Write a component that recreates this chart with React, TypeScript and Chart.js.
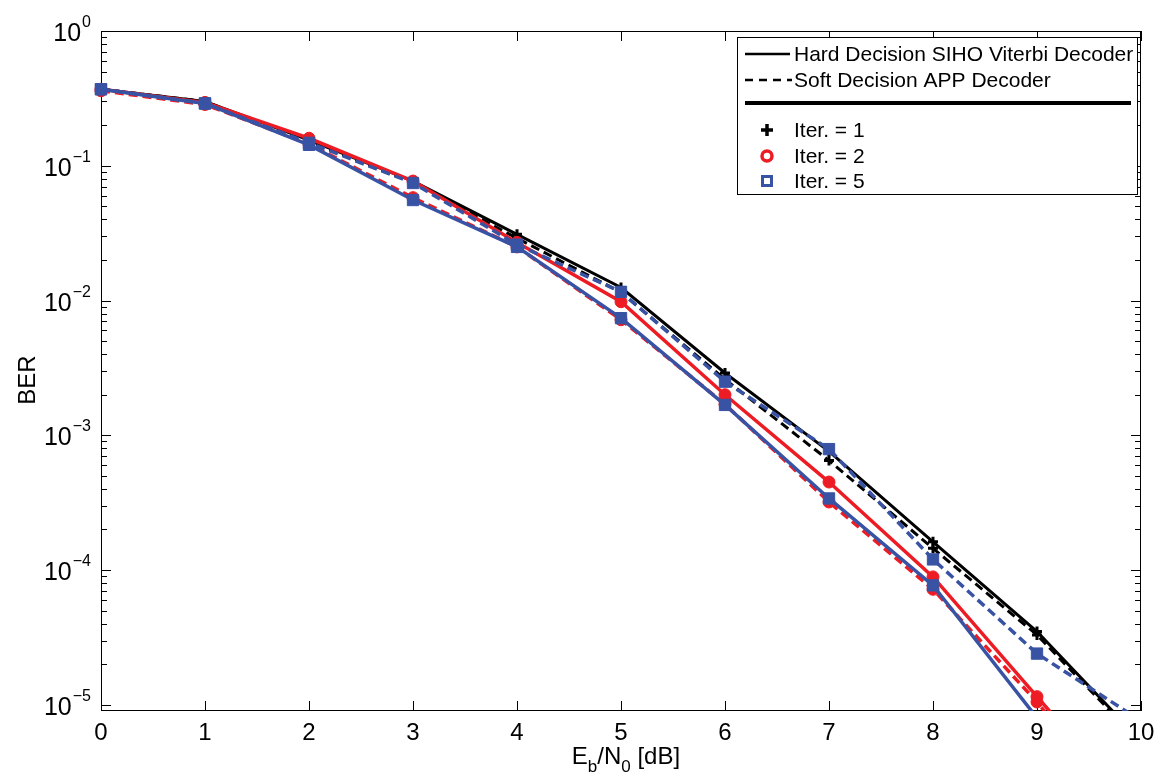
import React, { useEffect, useRef } from 'react';
import { Chart, registerables } from 'chart.js';

Chart.register(...registerables);

// ---------- data ----------
const ebN0 = [0, 1, 2, 3, 4, 5, 6, 7, 8, 9, 10];
const hardIter1 = [0.37, 0.3, 0.155, 0.077, 0.031, 0.0125, 0.0029, 0.00076, 0.000162, 0.000035, 0.0000054];
const softIter1 = [0.37, 0.3, 0.152, 0.075, 0.029, 0.0115, 0.0026, 0.00065, 0.000145, 0.000033, 0.0000052];
const hardIter2 = [0.37, 0.295, 0.16, 0.077, 0.027, 0.0098, 0.002, 0.00045, 0.000089, 0.0000115, 0.0000015];
const softIter2 = [0.36, 0.285, 0.145, 0.058, 0.025, 0.0072, 0.0017, 0.00032, 0.000072, 0.0000105, 0.0000012];
const hardIter5 = [0.37, 0.29, 0.143, 0.0557, 0.025, 0.0074, 0.00168, 0.00034, 0.000077, 0.000008];
const softIter5 = [0.37, 0.29, 0.148, 0.0745, 0.026, 0.0116, 0.0025, 0.00079, 0.00012, 0.000024, 0.0000076];

const xTicks = [0, 1, 2, 3, 4, 5, 6, 7, 8, 9, 10];
const yDecades = [0, -1, -2, -3, -4, -5];
const legendLines = ['Hard Decision SIHO Viterbi Decoder', 'Soft Decision APP Decoder'];
const legendIters = ['Iter. = 1', 'Iter. = 2', 'Iter. = 5'];

const RED = '#ed1c24';
const BLUE = '#3953a4';
const BLACK = '#000000';
const FONT = '"Liberation Sans", Arial, Helvetica, sans-serif';

const toPoints = (arr: number[]) => arr.map((y, i) => ({ x: ebN0[i], y }));

const framePlugin = {
  id: 'matlabFrame',
  beforeDatasetsDraw(chart: any) {
    const { ctx, chartArea: a, scales } = chart;
    const xs = scales.x;
    const ys = scales.y;
    ctx.save();
    ctx.strokeStyle = '#000';
    ctx.lineWidth = 1;
    ctx.strokeRect(a.left + 0.5, a.top + 0.5, a.right - a.left - 1, a.bottom - a.top - 1);
    ctx.beginPath();
    for (const t of xTicks) {
      const px = Math.round(xs.getPixelForValue(t)) + 0.5;
      ctx.moveTo(px, a.bottom);
      ctx.lineTo(px, a.bottom - 10);
      ctx.moveTo(px, a.top);
      ctx.lineTo(px, a.top + 10);
    }
    for (const d of yDecades) {
      const base = Math.pow(10, d);
      const py = Math.round(ys.getPixelForValue(base)) + 0.5;
      ctx.moveTo(a.left, py);
      ctx.lineTo(a.left + 10, py);
      ctx.moveTo(a.right, py);
      ctx.lineTo(a.right - 10, py);
      if (d < 0) {
        for (let m = 2; m <= 9; m++) {
          const v = base * m;
          const my = Math.round(ys.getPixelForValue(v)) + 0.5;
          ctx.moveTo(a.left, my);
          ctx.lineTo(a.left + 6, my);
          ctx.moveTo(a.right, my);
          ctx.lineTo(a.right - 6, my);
        }
      }
    }
    ctx.stroke();

    ctx.fillStyle = '#000';
    ctx.textBaseline = 'middle';
    ctx.textAlign = 'center';
    ctx.font = `24px ${FONT}`;
    for (const t of xTicks) {
      ctx.fillText(String(t), xs.getPixelForValue(t), 733);
    }
    for (const d of yDecades) {
      const py = ys.getPixelForValue(Math.pow(10, d));
      const exp = d === 0 ? '0' : '\u2212' + String(-d);
      ctx.font = `16px ${FONT}`;
      ctx.textAlign = 'right';
      ctx.textBaseline = 'alphabetic';
      const right = 91;
      const ew = ctx.measureText(exp).width;
      ctx.fillText(exp, right, py - 4);
      ctx.font = `25px ${FONT}`;
      ctx.fillText('10', right - ew - 1, py + 10);
    }

    ctx.save();
    ctx.translate(35, 380);
    ctx.rotate(-Math.PI / 2);
    ctx.textAlign = 'center';
    ctx.textBaseline = 'alphabetic';
    ctx.font = `24px ${FONT}`;
    ctx.fillText('BER', 0, 0);
    ctx.restore();

    const parts: [string, boolean][] = [['E', false], ['b', true], ['/N', false], ['0', true], [' [dB]', false]];
    const big = `24px ${FONT}`;
    const small = `17px ${FONT}`;
    let total = 0;
    for (const [s, sub] of parts) {
      ctx.font = sub ? small : big;
      total += ctx.measureText(s).width;
    }
    let cx = 626 - total / 2;
    ctx.textAlign = 'left';
    ctx.textBaseline = 'alphabetic';
    for (const [s, sub] of parts) {
      ctx.font = sub ? small : big;
      ctx.fillText(s, cx, sub ? 772 : 764);
      cx += ctx.measureText(s).width;
    }
    ctx.restore();
  },
  afterDatasetsDraw(chart: any) {
    const { ctx } = chart;
    ctx.save();
    const L = 737, T = 37, R = 1137, B = 194;
    ctx.fillStyle = '#fff';
    ctx.fillRect(L, T, R - L, B - T);
    ctx.strokeStyle = '#000';
    ctx.lineWidth = 1;
    ctx.strokeRect(L + 0.5, T + 0.5, R - L, B - T);

    ctx.lineWidth = 2.5;
    ctx.beginPath();
    ctx.moveTo(745, 54);
    ctx.lineTo(790, 54);
    ctx.stroke();
    ctx.setLineDash([8, 6]);
    ctx.beginPath();
    ctx.moveTo(745, 80);
    ctx.lineTo(792, 80);
    ctx.stroke();
    ctx.setLineDash([]);
    ctx.lineWidth = 4;
    ctx.beginPath();
    ctx.moveTo(745, 103);
    ctx.lineTo(1131, 103);
    ctx.stroke();

    ctx.fillStyle = '#000';
    ctx.font = `21px ${FONT}`;
    ctx.textAlign = 'left';
    ctx.textBaseline = 'middle';
    ctx.fillText(legendLines[0], 794, 55);
    ctx.fillText(legendLines[1], 794, 81);
    const ys = [130, 156, 181];
    legendIters.forEach((t, i) => ctx.fillText(t, 794, ys[i] + 1));

    ctx.strokeStyle = BLACK;
    ctx.lineWidth = 3.5;
    ctx.beginPath();
    ctx.moveTo(761, 130);
    ctx.lineTo(773, 130);
    ctx.moveTo(767, 124);
    ctx.lineTo(767, 136);
    ctx.stroke();
    ctx.strokeStyle = RED;
    ctx.lineWidth = 3.5;
    ctx.beginPath();
    ctx.arc(767, 156, 5, 0, Math.PI * 2);
    ctx.stroke();
    ctx.strokeStyle = BLUE;
    ctx.lineWidth = 3;
    ctx.strokeRect(762.5, 176.5, 9, 9);
    ctx.restore();
  },
};

const clip = { left: 10, top: 10, right: 0, bottom: 0 };

export default function App() {
  const ref = useRef<HTMLCanvasElement>(null);
  useEffect(() => {
    if (!ref.current) return;
    const mk = (label: string, arr: number[], color: string, dashed: boolean, style: string, order: number) => ({
      label,
      data: toPoints(arr),
      borderColor: color,
      backgroundColor: color,
      borderWidth: color === BLACK ? 3 : 3.5,
      borderDash: dashed ? [9, 5] : [],
      pointStyle: style,
      pointRadius: style === 'rect' ? 8 : style === 'circle' ? 6 : 5,
      pointBorderWidth: style === 'cross' ? 3 : 1,
      pointBackgroundColor: color,
      pointBorderColor: color,
      tension: 0,
      clip,
      order,
    });
    const chart = new Chart(ref.current, {
      type: 'line',
      data: {
        datasets: [
          mk('Hard Iter. = 1', hardIter1, BLACK, false, 'cross', 6),
          mk('Soft Iter. = 1', softIter1, BLACK, true, 'cross', 5),
          mk('Hard Iter. = 2', hardIter2, RED, false, 'circle', 4),
          mk('Soft Iter. = 2', softIter2, RED, true, 'circle', 3),
          mk('Soft Iter. = 5', softIter5, BLUE, true, 'rect', 2),
          mk('Hard Iter. = 5', hardIter5, BLUE, false, 'rect', 1),
        ] as any,
      },
      options: {
        animation: false,
        responsive: false,
        devicePixelRatio: 1,
        layout: { padding: { left: 101, right: 27, top: 31, bottom: 65 } },
        scales: {
          x: { type: 'linear', min: 0, max: 10, display: false },
          y: { type: 'logarithmic', min: 9e-6, max: 1, display: false },
        },
        plugins: { legend: { display: false }, tooltip: { enabled: false } },
      },
      plugins: [framePlugin],
    });
    return () => chart.destroy();
  }, []);
  return (
    <div style={{ position: 'fixed', left: 0, top: 0, width: 1168, height: 776, background: '#fff' }}>
      <canvas ref={ref} width={1168} height={776} />
    </div>
  );
}
